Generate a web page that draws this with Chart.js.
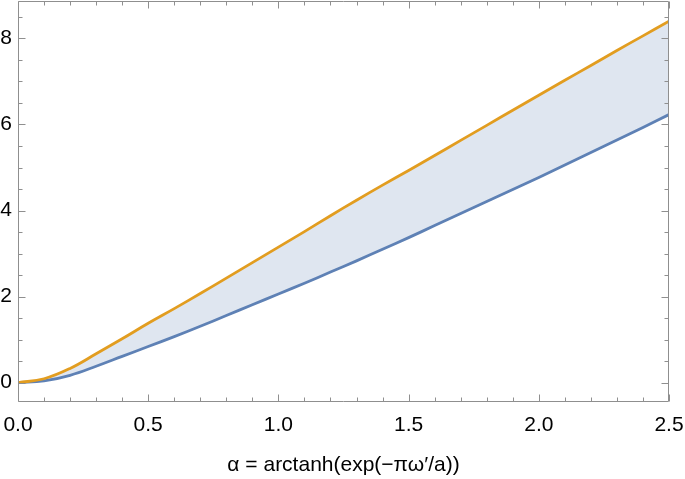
<!DOCTYPE html>
<html>
<head>
<meta charset="utf-8">
<script src="https://cdn.jsdelivr.net/npm/chart.js@4/dist/chart.umd.min.js"></script>
<style>
  html, body { margin: 0; padding: 0; background: #fff; }
  #wrap { width: 685px; height: 479px; }
</style>
</head>
<body>
<div id="wrap"><canvas id="grafico" width="685" height="479"></canvas></div>
<script>
// valores
const alphaVals = [0, 0.1, 0.2, 0.3, 0.4, 0.5, 0.6, 0.7, 0.8, 0.9, 1.0, 1.1, 1.2,
  1.3, 1.4, 1.5, 1.6, 1.7, 1.8, 1.9, 2.0, 2.1, 2.2, 2.3, 2.4, 2.5];
const upperVals = [0, 0.09, 0.33, 0.67, 1.02, 1.38, 1.72, 2.07, 2.43, 2.79, 3.15, 3.51, 3.88,
  4.24, 4.59, 4.93, 5.28, 5.63, 5.98, 6.33, 6.68, 7.03, 7.37, 7.72, 8.06, 8.40];
const lowerVals = [0, 0.04, 0.17, 0.38, 0.61, 0.84, 1.07, 1.31, 1.56, 1.81, 2.06, 2.31, 2.57,
  2.83, 3.10, 3.37, 3.65, 3.93, 4.21, 4.49, 4.77, 5.06, 5.35, 5.64, 5.93, 6.23];
const xTicks = [0, 0.5, 1.0, 1.5, 2.0, 2.5];
const yTicks = [0, 2, 4, 6, 8];
const xTitle = "\u03b1 = arctanh(exp(\u2212\u03c0\u03c9\u2032/a))";

const toPoints = vals => alphaVals.map((a, i) => ({ x: a, y: vals[i] }));

// marco con marcas hacia dentro, estilo Mathematica
const marco = {
  id: "marco",
  afterDatasetsDraw(chart) {
    const { ctx, chartArea: a, scales: { x, y } } = chart;
    ctx.save();
    ctx.strokeStyle = "#8f8f8f";
    ctx.lineWidth = 1;
    const L = Math.round(a.left) + 0.5, R = Math.round(a.right) - 0.5;
    const T = Math.round(a.top) + 0.5, B = Math.round(a.bottom) - 0.5;
    ctx.beginPath();
    ctx.rect(L, T, R - L, B - T);
    for (let i = 0; i <= 25; i++) {
      const px = Math.round(x.getPixelForValue(i / 10)) + 0.5;
      const len = i % 5 === 0 ? 7 : 4;
      ctx.moveTo(px, B); ctx.lineTo(px, B - len);
      ctx.moveTo(px, T); ctx.lineTo(px, T + len);
    }
    for (let i = 0; i <= 17; i++) {
      const v = i / 2;
      if (v > y.max) break;
      const py = Math.round(y.getPixelForValue(v)) + 0.5;
      const len = i % 4 === 0 ? 7 : 4;
      ctx.moveTo(L, py); ctx.lineTo(L + len, py);
      ctx.moveTo(R, py); ctx.lineTo(R - len, py);
    }
    ctx.stroke();
    ctx.restore();
  }
};

// sin margenes extra por las etiquetas
const sinMargen = s => {
  s.paddingTop = 0; s.paddingBottom = 0; s.paddingLeft = 0; s.paddingRight = 0;
};

const fuente = { family: "'Liberation Sans', Arial", size: 21 };

const ctx = document.getElementById("grafico").getContext("2d");
const chart = new Chart(ctx, {
  type: "line",
  data: {
    datasets: [
      {
        label: "superior",
        data: toPoints(upperVals),
        borderColor: "#e29d20",
        borderWidth: 2.8,
        pointRadius: 0,
        tension: 0.4,
        fill: false
      },
      {
        label: "inferior",
        data: toPoints(lowerVals),
        borderColor: "#5e81b5",
        borderWidth: 2.8,
        pointRadius: 0,
        tension: 0.4,
        backgroundColor: "rgb(223,230,240)",
        fill: "-1"
      }
    ]
  },
  options: {
    responsive: false,
    animation: false,
    layout: { padding: { top: 1, right: 16, left: 0, bottom: 0 } },
    plugins: {
      legend: { display: false },
      tooltip: { enabled: false }
    },
    scales: {
      x: {
        type: "linear",
        min: 0,
        max: 2.5,
        grid: { display: false, drawTicks: false },
        border: { display: false },
        afterBuildTicks: s => { s.ticks = xTicks.map(v => ({ value: v })); },
        afterFit: s => { s.height = 77; sinMargen(s); },
        ticks: {
          padding: 11,
          color: "#000",
          font: fuente,
          callback: v => Number(v).toFixed(1)
        },
        title: {
          display: true,
          text: xTitle,
          color: "#000",
          font: fuente,
          padding: { top: 0, bottom: 1 }
        }
      },
      y: {
        type: "linear",
        min: -0.45,
        max: 8.87,
        grid: { display: false, drawTicks: false },
        border: { display: false },
        afterBuildTicks: s => { s.ticks = yTicks.map(v => ({ value: v })); },
        afterFit: s => { s.width = 18; sinMargen(s); },
        ticks: {
          padding: 6,
          color: "#000",
          font: fuente,
          callback: v => String(v)
        }
      }
    }
  },
  plugins: [marco]
});
</script>
</body>
</html>
